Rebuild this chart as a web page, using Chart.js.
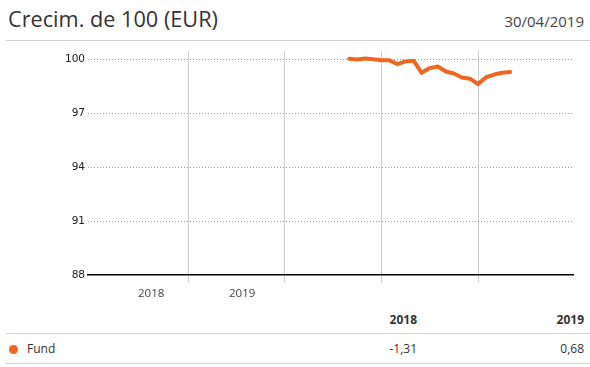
<!DOCTYPE html>
<html>
<head>
<meta charset="utf-8">
<script src="https://cdn.jsdelivr.net/npm/chart.js@4"></script>
<style>
    html, body { margin: 0; padding: 0; background: #fff; }
    body { width: 590px; height: 367px; position: relative; overflow: hidden; font-family: 'Open Sans', sans-serif; color: #333; }
    .title { position: absolute; left: 8px; top: 4px; font-size: 21.7px; line-height: 30px; color: #333; }
    .date { position: absolute; right: 6px; top: 8px; font-size: 15px; line-height: 26px; color: #444; }
    .rule { position: absolute; left: 6px; right: 0; height: 1px; background: #d2d2d2; }
    .chart-box { position: absolute; left: 0; top: 41px; width: 590px; height: 264px; }
    .cell { position: absolute; font-size: 12px; line-height: 16px; color: #333; white-space: nowrap; }
    .num { text-align: right; }
    .head { font-weight: bold; }
    .dot { position: absolute; left: 9px; top: 345px; width: 9px; height: 9px; border-radius: 50%; }
</style>
</head>
<body>
<div class="title">Crecim. de 100 (EUR)</div>
<div class="date">30/04/2019</div>
<div class="rule" style="top: 40px;"></div>
<div class="chart-box"><canvas id="chartCrecimiento"></canvas></div>
<div id="tabla"></div>

<script>
// meses contados desde enero 2015 (0 = ene 2015, 60 = ene 2020)
const meses = [32, 33, 34, 35, 36, 37, 38, 39, 40, 41, 42, 43, 44, 45, 46, 47, 48, 49, 50, 51, 52];
const fondo = [100.02, 99.98, 100.03, 99.99, 99.94, 99.93, 99.72, 99.87, 99.91, 99.24, 99.50, 99.59,
    99.31, 99.20, 98.98, 98.91, 98.61, 98.99, 99.14, 99.24, 99.28];
const yTicks = [88, 91, 94, 97, 100];
const xGridMeses = [12, 24, 36, 48];
const xEtiquetas = ['2018', '2019'];
const xEtiquetasMeses = [7.4, 18.7];
const anios = ['2018', '2019'];
const rentabilidad = ['-1,31', '0,68'];
const serie = 'Fund';

const naranja = '#ee6722';

// tabla inferior
const tabla = document.getElementById('tabla');
const colDerecha = [417, 584];
anios.forEach((anio, i) => {
    tabla.insertAdjacentHTML('beforeend',
        `<div class="cell num head" style="right:${590 - colDerecha[i]}px; top:312px;">${anio}</div>`);
    tabla.insertAdjacentHTML('beforeend',
        `<div class="cell num" style="right:${590 - colDerecha[i]}px; top:341px;">${rentabilidad[i]}</div>`);
});
tabla.insertAdjacentHTML('beforeend', `<div class="dot" style="background:${naranja}"></div>`);
tabla.insertAdjacentHTML('beforeend', `<div class="cell" style="left:27px; top:341px;">${serie}</div>`);
tabla.insertAdjacentHTML('beforeend', '<div class="rule" style="top:333px;"></div>');
tabla.insertAdjacentHTML('beforeend', '<div class="rule" style="top:363px;"></div>');

new Chart(document.getElementById('chartCrecimiento'), {
    type: 'line',
    data: {
        datasets: [{
            label: serie,
            data: meses.map((m, i) => ({ x: m, y: fondo[i] })),
            borderColor: naranja,
            backgroundColor: naranja,
            borderWidth: 4,
            pointRadius: 0,
            tension: 0,
            fill: false,
            borderJoinStyle: 'round',
            borderCapStyle: 'round',
        }],
    },
    options: {
        responsive: true,
        maintainAspectRatio: false,
        devicePixelRatio: 1,
        animation: false,
        events: [],
        layout: { padding: { top: 10, right: 17, left: 0, bottom: 0 } },
        plugins: {
            legend: { display: false },
            tooltip: { enabled: false },
        },
        scales: {
            x: {
                type: 'linear',
                min: -0.45,
                max: 59.8,
                afterBuildTicks: (axis) => {
                    axis.ticks = [...xEtiquetasMeses, ...xGridMeses]
                        .sort((a, b) => a - b)
                        .map((value) => ({ value }));
                },
                afterFit: (axis) => { axis.height = 30; },
                ticks: {
                    autoSkip: false,
                    maxRotation: 0,
                    padding: 4,
                    color: '#444',
                    font: { family: 'Open Sans', size: 11.5 },
                    callback: (value) => {
                        const idx = xEtiquetasMeses.indexOf(value);
                        return idx >= 0 ? xEtiquetas[idx] : '';
                    },
                },
                grid: {
                    color: (ctx) => (ctx.tick && xGridMeses.includes(ctx.tick.value) ? '#cccccc' : 'rgba(0,0,0,0)'),
                    lineWidth: 1,
                    tickLength: 8,
                },
                border: { display: true, color: '#000', width: 1.5 },
            },
            y: {
                min: 88,
                max: 100.45,
                afterBuildTicks: (axis) => {
                    axis.ticks = yTicks.map((value) => ({ value }));
                },
                afterFit: (axis) => { axis.width = 88; },
                ticks: {
                    padding: 3,
                    color: '#222',
                    font: { family: 'DejaVu Sans', size: 10.5 },
                },
                grid: {
                    drawTicks: false,
                    color: (ctx) => (ctx.tick && ctx.tick.value === 88 ? 'rgba(0,0,0,0)' : '#999'),
                    lineWidth: 1,
                },
                border: { display: false, dash: [1, 2] },
            },
        },
    },
});
</script>
</body>
</html>
